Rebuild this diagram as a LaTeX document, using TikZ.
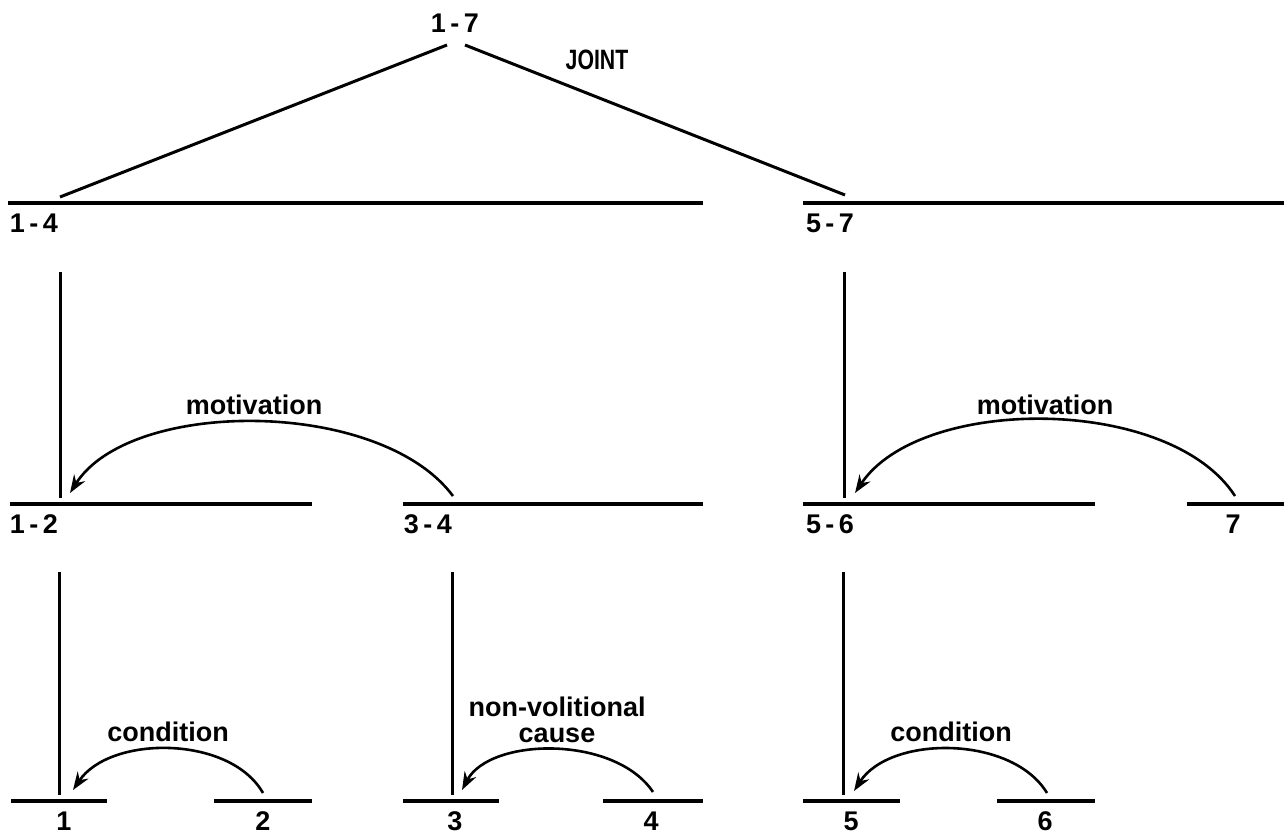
\documentclass[tikz,border=0pt]{standalone}
\usepackage{fontspec}
\setmainfont{Liberation Sans}
\newfontfamily\narrowsans[FakeStretch=0.76]{Liberation Sans}
\usetikzlibrary{arrows.meta}

\begin{document}
\begin{tikzpicture}[
  x=1pt, y=-1pt,
  bar/.style={fill=black, inner sep=0pt, minimum height=3.4pt},
  stem/.style={line width=3pt},
  num/.style={font=\fontsize{27}{30}\selectfont\bfseries, inner sep=0pt, anchor=base},
  rel/.style={font=\fontsize{27}{26}\selectfont\bfseries, align=center, inner sep=0pt},
  rarr/.style={line width=2.6pt, -{Stealth[length=18pt,width=13pt,inset=6pt]}}
]
\useasboundingbox (0,0) rectangle (1284,835);
% spans
\node[bar, minimum width=695pt] (s14) at (355.5,203) {};
\node[bar, minimum width=481pt] (s57) at (1043.5,203) {};
\node[bar, minimum width=302pt] (s12) at (161,504) {};
\node[bar, minimum width=300pt] (s34) at (553,504) {};
\node[bar, minimum width=292pt] (s56) at (949,504) {};
\node[bar, minimum width=97pt] (s7) at (1235.5,504) {};
\node[bar, minimum width=96pt] (s1) at (59,801) {};
\node[bar, minimum width=98pt] (s2) at (263,801) {};
\node[bar, minimum width=96pt] (s3) at (451,801) {};
\node[bar, minimum width=100pt] (s4) at (653,801) {};
\node[bar, minimum width=97pt] (s5) at (851.5,801) {};
\node[bar, minimum width=98pt] (s6) at (1046,801) {};
% span labels
\node[num] (n17) at (455,32) {1\,-\,7};
\node[num] (n14) at (34,232) {1\,-\,4};
\node[num] (n57) at (830,232) {5\,-\,7};
\node[num] (n12) at (34,533) {1\,-\,2};
\node[num] (n34) at (428,533) {3\,-\,4};
\node[num] (n56) at (830,533) {5\,-\,6};
\node[num] (n7) at (1233,533) {7};
\node[num] (n1) at (64,830) {1};
\node[num] (n2) at (263,830) {2};
\node[num] (n3) at (455,830) {3};
\node[num] (n4) at (651,830) {4};
\node[num] (n5) at (851,830) {5};
\node[num] (n6) at (1045,830) {6};
% relation names
\node[rel, font=\fontsize{28}{28}\selectfont\narrowsans\bfseries] (joint) at (597,60) {JOINT};
\node[rel] (mot1) at (254,405) {motivation};
\node[rel] (mot2) at (1045,405) {motivation};
\node[rel] (cond1) at (168,732) {condition};
\node[rel] (nvc) at (557,720) {non-volitional\\cause};
\node[rel] (cond2) at (951,732) {condition};
% joint
\coordinate (j1) at (447,45);
\coordinate (j2) at (465,45);
\coordinate (t14) at (60,197);
\coordinate (t57) at (845,195);
\draw[stem] (j1) -- (t14);
\draw[stem] (j2) -- (t57);
% nucleus stems
\coordinate (v14) at (60,272);
\coordinate (v57) at (844,272);
\coordinate (v12) at (59,572);
\coordinate (v34) at (452,572);
\coordinate (v56) at (843,572);
\draw[stem] (v14) -- ([yshift=4pt]v14 |- s12.north);
\draw[stem] (v57) -- ([yshift=4pt]v57 |- s56.north);
\draw[stem] (v12) -- ([yshift=4pt]v12 |- s1.north);
\draw[stem] (v34) -- ([yshift=4pt]v34 |- s3.north);
\draw[stem] (v56) -- ([yshift=4pt]v56 |- s5.north);
% satellite arcs
\coordinate (a34) at (453,496);
\coordinate (h12) at (70,493);
\coordinate (a7) at (1235,496);
\coordinate (h56) at (855,493);
\coordinate (a2) at (263,793);
\coordinate (h1) at (73,790);
\coordinate (a4) at (653,792);
\coordinate (h3) at (462,790);
\coordinate (a6) at (1047,793);
\coordinate (h5) at (854,791);
\draw[rarr] (a34) .. controls (380,398) and (130,398) .. (h12);
\draw[rarr] (a7) .. controls (1170,395) and (920,395) .. (h56);
\draw[rarr] (a2) .. controls (230,735) and (110,735) .. (h1);
\draw[rarr] (a4) .. controls (615,735) and (490,737) .. (h3);
\draw[rarr] (a6) .. controls (1012,735) and (890,735) .. (h5);
\end{tikzpicture}
\end{document}
